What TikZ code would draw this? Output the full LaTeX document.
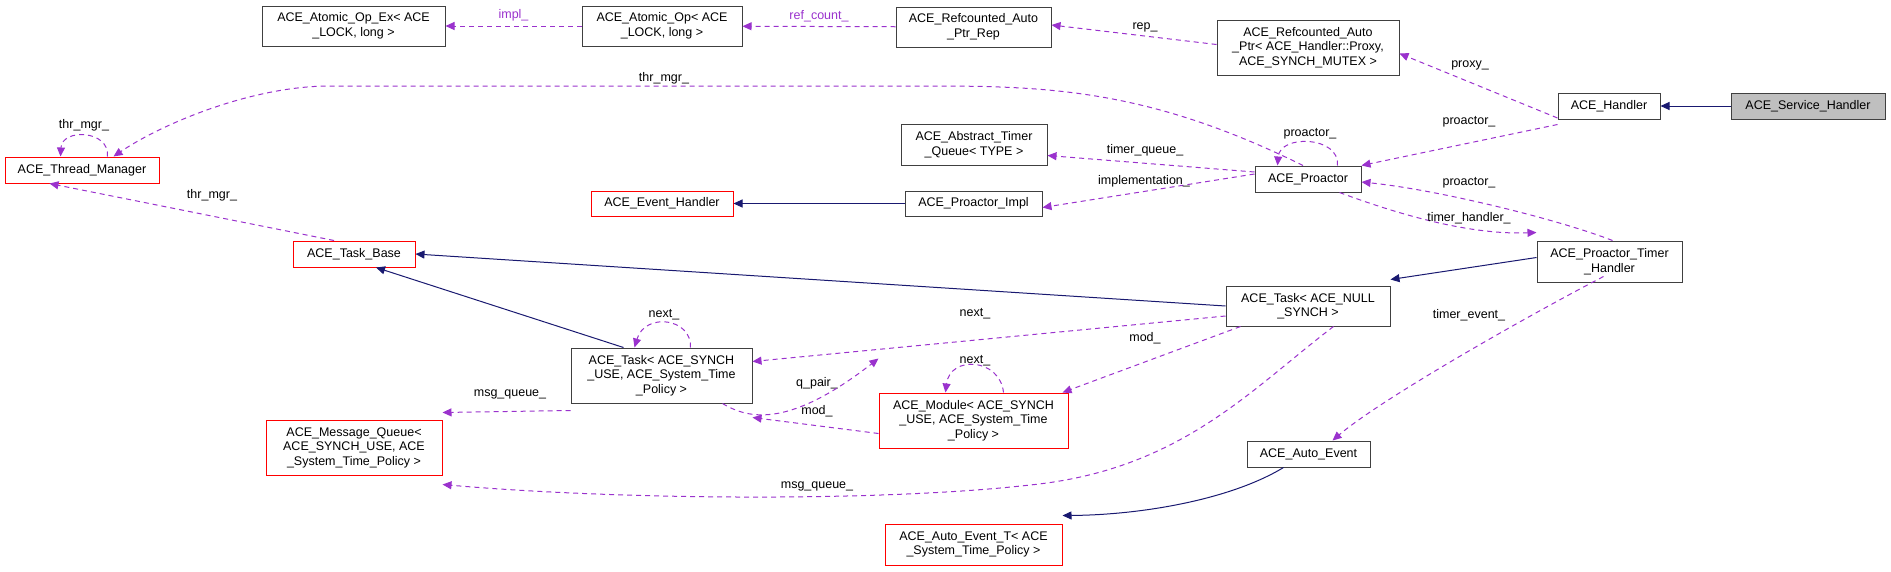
\documentclass[tikz,border=0pt]{standalone}
\usepackage{fontspec}
\setmainfont{Liberation Sans}
\usetikzlibrary{arrows.meta}
\definecolor{pur}{HTML}{9A32CD}
\definecolor{nav}{HTML}{191970}
\begin{document}
\begin{tikzpicture}[x=1pt,y=-1pt,
  every node/.style={font=\fontsize{12.5}{14.5}\selectfont},
  box/.style={draw=black!75, line width=1pt, align=center, inner sep=0pt, fill=white},
  rbox/.style={box, draw=red},
  lbl/.style={inner sep=0pt},
  dep/.style={draw=pur, dashed, dash pattern=on 5pt off 4pt, line width=1pt, -{Triangle[length=9pt,width=8pt]}, color=pur},
  inh/.style={draw=nav, line width=1pt, -{Triangle[length=9pt,width=8pt]}, color=nav}]
\useasboundingbox (0,0) rectangle (1891,571);
\newcommand{\bx}[7]{\node[#1, minimum width=#4-#3, minimum height=#6-#5] (#2) at ({(#3+#4)/2},{(#5+#6)/2}) {#7};}
\bx{box}{aox}{262}{445}{6}{46}{ACE\_Atomic\_Op\_Ex< ACE\\\_LOCK, long >}
\bx{box}{ao}{582}{742}{6}{46}{ACE\_Atomic\_Op< ACE\\\_LOCK, long >}
\bx{box}{rr}{896}{1051}{7}{47}{ACE\_Refcounted\_Auto\\\_Ptr\_Rep}
\bx{box}{rap}{1217}{1399}{20}{75}{ACE\_Refcounted\_Auto\\\_Ptr< ACE\_Handler::Proxy,\\ACE\_SYNCH\_MUTEX >}
\bx{box}{h}{1558}{1660}{93}{119}{ACE\_Handler}
\node[box, fill=black!25, minimum width=154, minimum height=26] (sh) at (1808,106) {ACE\_Service\_Handler};
\bx{rbox}{tm}{5}{159}{157}{183}{ACE\_Thread\_Manager}
\bx{rbox}{tb}{293}{415}{241}{267}{ACE\_Task\_Base}
\bx{rbox}{eh}{591}{733}{191}{216}{ACE\_Event\_Handler}
\bx{box}{atq}{901}{1047}{124}{165}{ACE\_Abstract\_Timer\\\_Queue< TYPE >}
\bx{box}{pi}{905}{1042}{191}{216}{ACE\_Proactor\_Impl}
\bx{box}{p}{1255}{1361}{166}{192}{ACE\_Proactor}
\bx{box}{pth}{1537}{1682}{241}{282}{ACE\_Proactor\_Timer\\\_Handler}
\bx{box}{tn}{1226}{1390}{286}{326}{ACE\_Task< ACE\_NULL\\\_SYNCH >}
\bx{box}{ts}{571}{752}{348}{403}{ACE\_Task< ACE\_SYNCH\\\_USE, ACE\_System\_Time\\\_Policy >}
\bx{rbox}{mq}{266}{442}{420}{475}{ACE\_Message\_Queue<\\ACE\_SYNCH\_USE, ACE\\\_System\_Time\_Policy >}
\bx{rbox}{mod}{879}{1068}{393}{448}{ACE\_Module< ACE\_SYNCH\\\_USE, ACE\_System\_Time\\\_Policy >}
\bx{box}{ae}{1247}{1370}{441}{467}{ACE\_Auto\_Event}
\bx{rbox}{aet}{885}{1062}{524}{565}{ACE\_Auto\_Event\_T< ACE\\\_System\_Time\_Policy >}
% inheritance
\draw[inh] (sh) -- (h);
\draw[inh] (pi) -- (eh);
\draw[inh] (tn.west) -- (tb.east);
\draw[inh] ([yshift=4pt]pth.west) -- ([yshift=6pt]tn.north east);
\draw[inh] ([xshift=-38pt]ts.north) -- ([xshift=22pt]tb.south);
\draw[inh] ([xshift=-25pt]ae.south) .. controls (1230,500) and (1140,515) .. ([yshift=8pt]aet.north east);
% dependencies
\draw[dep] (ao) -- (aox) node[lbl, midway, above=4pt] {impl\_};
\draw[dep] (rr) -- (ao) node[lbl, midway, above=4pt] {ref\_count\_};
\draw[dep] ([yshift=3pt]rap.west) -- ([yshift=2pt]rr.east);
\node[lbl] at (1145,27) {rep\_};
\draw[dep] ([yshift=-12pt]h.west) -- ([yshift=22pt]rap.south east);
\node[lbl] at (1470,65) {proxy\_};
\draw[dep] ([yshift=-5pt]h.south west) -- (p.north east);
\node[lbl] at (1469,122) {proactor\_};
\draw[dep] ([xshift=-5pt]p.north) .. controls (1150,90) and (1050,86) .. (930,86) -- (330,86) .. controls (250,86) and (160,125) .. ([xshift=-46pt]tm.north east);
\node[lbl] at (664,78) {thr\_mgr\_};
\draw[dep] ([xshift=103pt]tm.north west) .. controls (110,130) and (62,128) .. ([xshift=56pt]tm.north west);
\node[lbl] at (84,125) {thr\_mgr\_};
\draw[dep] ([xshift=-24pt]p.north east) .. controls (1340,136) and (1280,134) .. ([xshift=23pt]p.north west);
\node[lbl] at (1310,134) {proactor\_};
\draw[dep] ([yshift=7pt]p.west) -- ([yshift=-11pt]atq.east);
\node[lbl] at (1145,150) {timer\_queue\_};
\draw[dep] ([yshift=5pt]p.west) -- ([yshift=-4pt]pi.east);
\node[lbl] at (1144,181) {implementation\_};
\draw[dep] ([xshift=-70pt]pth.north east) .. controls (1560,220) and (1440,190) .. ([yshift=-3pt]p.east);
\node[lbl] at (1469,183) {proactor\_};
\draw[dep] ([xshift=-22pt]p.south east) .. controls (1400,215) and (1470,235) .. ([yshift=8pt]pth.north west);
\node[lbl] at (1469,218) {timer\_handler\_};
\draw[dep] ([xshift=-6pt,yshift=6pt]pth.south) .. controls (1520,320) and (1380,400) .. ([xshift=24pt]ae.north);
\node[lbl] at (1469,315) {timer\_event\_};
\draw[dep] ([xshift=-20pt]tb.north) -- ([xshift=45pt]tm.south west);
\node[lbl] at (212,195) {thr\_mgr\_};
\draw[dep] ([xshift=-62pt]ts.north east) .. controls (692,318) and (645,312) .. ([xshift=64pt]ts.north west);
\node[lbl] at (664,315) {next\_};
\draw[dep] ([yshift=-10pt]tn.west) -- ([yshift=-14pt]ts.north east);
\node[lbl] at (975,314) {next\_};
\draw[dep] ([xshift=15pt]tn.south west) -- ([xshift=-6pt]mod.north east);
\node[lbl] at (1145,338) {mod\_};
\draw[dep] ([xshift=-65pt]mod.north east) .. controls (1000,358) and (950,355) .. ([xshift=67pt]mod.north west);
\node[lbl] at (975,361) {next\_};
\draw[dep] ([yshift=-13pt]mod.west) -- ([yshift=-14pt]ts.south east);
\node[lbl] at (817,383) {q\_pair\_};
\draw[dep] ([xshift=-30pt]ts.south east) .. controls (750,420) and (790,427) .. ([yshift=34pt]mod.north west);
\node[lbl] at (817,411) {mod\_};
\draw[dep] ([yshift=-7pt]ts.south west) -- ([yshift=7pt]mq.north east);
\node[lbl] at (510,394) {msg\_queue\_};
\draw[dep] ([xshift=-57pt]tn.south east) .. controls (1250,390) and (1180,470) .. (1030,485) .. controls (880,502) and (620,500) .. ([yshift=-9pt]mq.south east);
\node[lbl] at (817,486) {msg\_queue\_};
\end{tikzpicture}
\end{document}
